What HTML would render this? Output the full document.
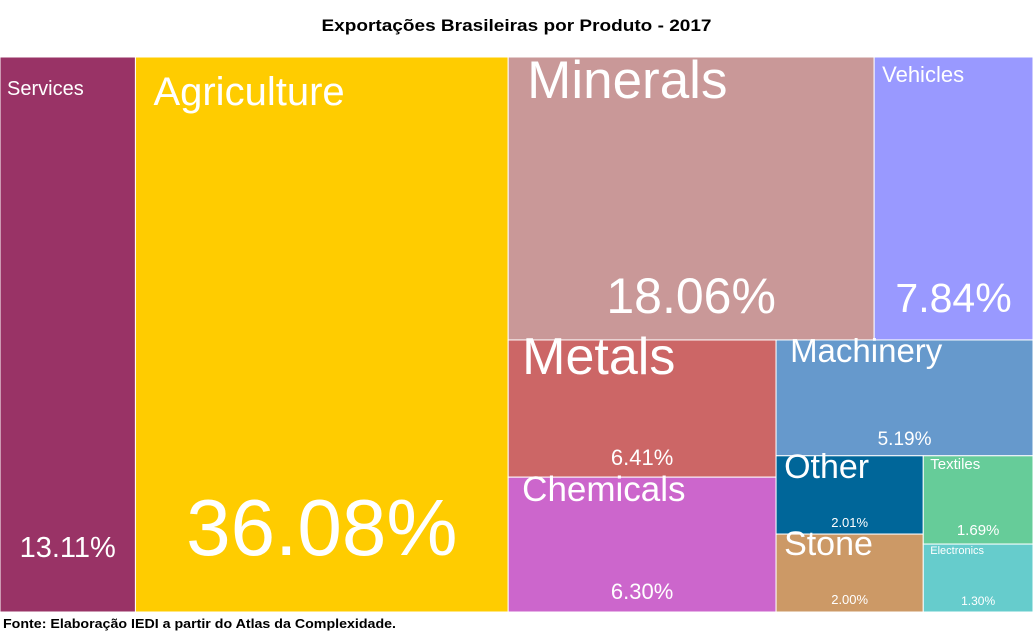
<!DOCTYPE html>
<html><head><meta charset="utf-8"><style>
html,body{margin:0;padding:0;background:#fff;width:1033px;height:635px;overflow:hidden;font-family:"Liberation Sans",sans-serif}
svg{display:block}
</style></head><body>
<svg id="chart" width="1033" height="635">
<text x="516.5" y="31" text-anchor="middle" font-size="17" font-weight="bold" fill="#000" textLength="390" lengthAdjust="spacingAndGlyphs">Exportações Brasileiras por Produto - 2017</text>
<g id="cells"></g>
<text x="3" y="628" font-size="13" font-weight="bold" fill="#000" textLength="393" lengthAdjust="spacingAndGlyphs">Fonte: Elaboração IEDI a partir do Atlas da Complexidade.</text>
</svg>
<script>
const categories=["Services","Agriculture","Minerals","Vehicles","Metals","Chemicals","Machinery","Other","Stone","Textiles","Electronics"];
const shares=[13.11,36.08,18.06,7.84,6.41,6.30,5.19,2.01,2.00,1.69,1.30];
const colors=["#993366","#ffcc00","#c99898","#9999ff","#cc6666","#cc66cc","#6699cc","#006699","#cc9966","#66cc99","#66cccc"];
const nameSize=[20,40,53,22,52,35,33,34,34,15,11];
const pctSize=[29,80,50,41,22,22,19,13,13,15,12];
const nameOff=[[7,38],[18,48],[19,41],[8,25],[14,34],[14,24],[14,22],[8,22],[8,21],[7,13],[7,10]];
const pctOff=[55,57,27,28,12,13,11,7,8,9,7];
// layout tree (indices)
const tree={dir:"h",kids:[0,1,{dir:"v",kids:[{dir:"h",kids:[2,3]},{dir:"h",kids:[{dir:"v",kids:[4,5]},{dir:"v",kids:[6,{dir:"h",kids:[{dir:"v",kids:[7,8]},{dir:"v",kids:[9,10]}]}]}]}]}]};
function total(n){return typeof n==="number"?shares[n]:n.kids.reduce((s,k)=>s+total(k),0);}
const rects=[];
function layout(n,x,y,w,h){
  if(typeof n==="number"){rects[n]={x,y,w,h};return;}
  const t=total(n);let p=0;
  n.kids.forEach(k=>{const f=total(k)/t;
    if(n.dir==="h"){layout(k,x+p*w,y,f*w,h);}else{layout(k,x,y+p*h,w,f*h);}
    p+=f;});
}
layout(tree,0,57,1033,555);
const g=document.getElementById("cells");
const NS="http://www.w3.org/2000/svg";
categories.forEach((c,i)=>{
  const r=rects[i];
  const grp=document.createElementNS(NS,"g");
  
  
  const rc=document.createElementNS(NS,"rect");
  rc.setAttribute("x",r.x);rc.setAttribute("y",r.y);rc.setAttribute("width",r.w);rc.setAttribute("height",r.h);
  rc.setAttribute("fill",colors[i]);rc.setAttribute("stroke","#ffffff");rc.setAttribute("stroke-width","1");
  
  
  grp.appendChild(rc);
  const t1=document.createElementNS(NS,"text");
  t1.setAttribute("x",r.x+nameOff[i][0]);t1.setAttribute("y",r.y+nameOff[i][1]);
  t1.setAttribute("font-size",nameSize[i]);t1.setAttribute("fill","#fff");
  t1.textContent=c;
  
  
  grp.appendChild(t1);
  const t2=document.createElementNS(NS,"text");
  t2.setAttribute("x",r.x+r.w/2);t2.setAttribute("y",r.y+r.h-pctOff[i]);
  t2.setAttribute("font-size",pctSize[i]);t2.setAttribute("fill","#fff");t2.setAttribute("text-anchor","middle");
  t2.textContent=shares[i].toFixed(2)+"%";
  
  
  grp.appendChild(t2);
  g.appendChild(grp);
});
</script>
</body></html>
